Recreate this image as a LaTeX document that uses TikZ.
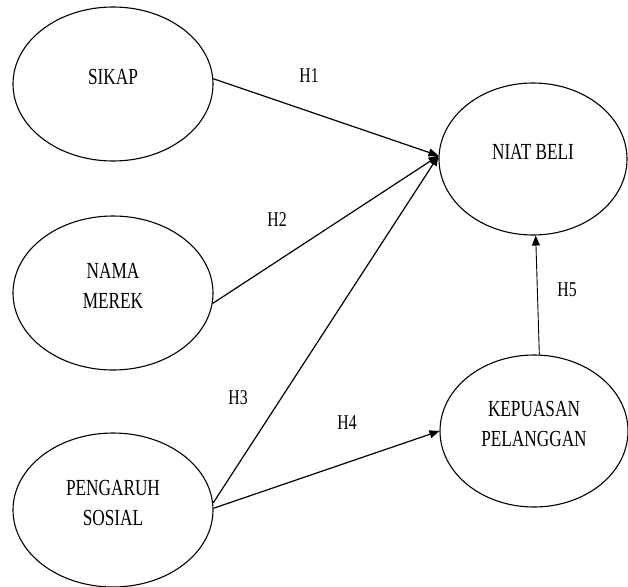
\documentclass[tikz,border=0pt]{standalone}
\usepackage{fontspec}
\setmainfont[FakeStretch=0.75]{Liberation Serif}
\usetikzlibrary{shapes.geometric,arrows.meta}
\begin{document}
\begin{tikzpicture}[x=1pt,y=1pt,
  ell/.style={ellipse,draw,line width=1.1pt,minimum width=200pt,minimum height=154pt,inner sep=0pt},
  ellr/.style={ell,minimum width=188pt,minimum height=152pt},
  txt/.style={font=\fontsize{23}{30}\selectfont,align=center,yshift=7pt},
  hyp/.style={font=\fontsize{21}{24}\selectfont},
  conn/.style={line width=1.2pt,-{Triangle[length=10pt,width=8pt]}}]
\useasboundingbox (0,0) rectangle (628,-586);
\node[ell,label={[txt]center:SIKAP}] (sikap) at (113,-84) {};
\node[ell,label={[txt]center:NAMA\\MEREK}] (nama) at (113,-293) {};
\node[ell,label={[txt]center:PENGARUH\\SOSIAL}] (peng) at (113,-510) {};
\node[ellr,label={[txt]center:NIAT BELI}] (niat) at (533,-159) {};
\node[ellr,label={[txt]center:KEPUASAN\\PELANGGAN}] (kep) at (534,-431) {};
\draw[conn] (sikap.3) -- (niat.178);
\draw[conn] (nama.-6) -- (niat.178);
\draw[conn] (peng.4) -- (niat.178);
\draw[conn] (peng.1) -- (kep.west);
\draw[conn,line width=0.9pt] (kep.86) -- (niat.272);
\node[hyp] (h1) at (309,-76) {H1};
\node[hyp] (h2) at (277,-220) {H2};
\node[hyp] (h3) at (238,-398) {H3};
\node[hyp] (h4) at (347,-423) {H4};
\node[hyp] (h5) at (567,-290) {H5};
\end{tikzpicture}
\end{document}
